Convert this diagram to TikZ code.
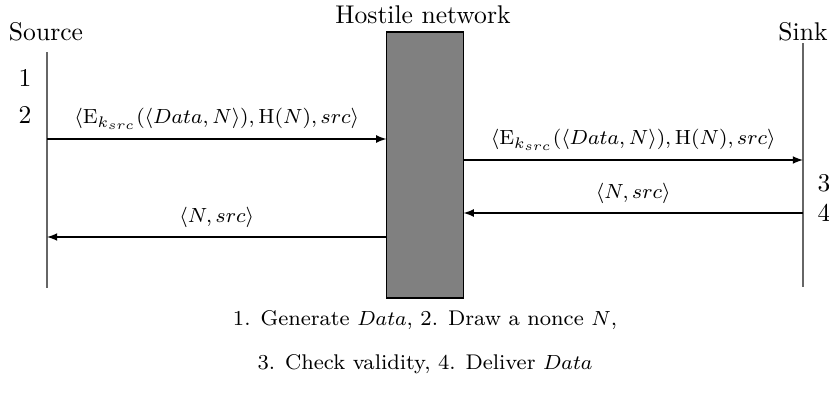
\documentclass[tikz,border=0pt]{standalone}
\usetikzlibrary{arrows}
\begin{document}
\begin{tikzpicture}[x=0.390625pt, y=-0.390625pt,
  lifeline/.style={draw=black!60, line width=0.5pt},
  msg/.style={draw=black, line width=0.4pt, -latex},
  lab/.style={font=\fontsize{8.5}{10}\selectfont, midway, above},
  netbox/.style={draw=black, fill=black!50, line width=0.4pt, minimum width=29.7pt, minimum height=103.9pt, inner sep=0pt},
  txt/.style={anchor=base, inner sep=0pt},
  captxt/.style={anchor=base, inner sep=0pt, font=\fontsize{8.3}{10}\selectfont}]
\useasboundingbox (0,0) rectangle (829,396);
% headers
\node[txt] (src) at (46,40) {Source};
\node[txt] (host) at (423,24) {Hostile network};
\node[txt] (sink) at (803,40) {Sink};
% step numbers
\node[txt] (n1) at (25,86) {1};
\node[txt] (n2) at (25,123) {2};
\node[txt] (n3) at (824,191) {3};
\node[txt] (n4) at (824,221) {4};
% lifelines
\coordinate (srcTop) at (47,52);
\coordinate (srcBot) at (47,288);
\coordinate (sinkTop) at (803,43);
\coordinate (sinkBot) at (803,287);
\draw[lifeline] (srcTop) -- (srcBot);
\draw[lifeline] (sinkTop) -- (sinkBot);
% hostile network
\node[netbox] (net) at (425,165) {};
% messages
\coordinate (a1) at (47,139);
\coordinate (a2) at (803,160);
\coordinate (a3) at (803,213);
\coordinate (a4) at (47,237);
\draw[msg] (a1) -- (a1 -| net.west)
  node[lab] (l1) {$\langle \mathrm{E}_{k_{src}}(\langle Data, N\rangle), \mathrm{H}(N), src\rangle$};
\draw[msg] (a2 -| net.east) -- (a2)
  node[lab] (l2) {$\langle \mathrm{E}_{k_{src}}(\langle Data, N\rangle), \mathrm{H}(N), src\rangle$};
\draw[msg] (a3) -- (a3 -| net.east)
  node[lab] (l3) {$\langle N, src\rangle$};
\draw[msg] (a4 -| net.west) -- (a4)
  node[lab] (l4) {$\langle N, src\rangle$};
% caption
\node[captxt] (c1) at (425,325) {1. Generate $Data$, 2. Draw a nonce $N$,};
\node[captxt] (c2) at (425,369) {3. Check validity, 4. Deliver $Data$};
\end{tikzpicture}
\end{document}
